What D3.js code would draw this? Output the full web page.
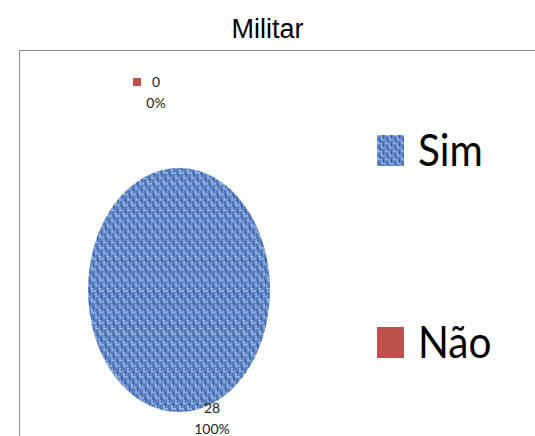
<!DOCTYPE html>
<html>
<head>
<meta charset="utf-8">
<script src="https://cdn.jsdelivr.net/npm/d3@7"></script>
<style>
  body { margin: 0; background: #fff; }
</style>
</head>
<body>
<svg id="chart"></svg>
<script>
// chart data
const categories = ['Sim', 'Não'];
const counts = [28, 0];
const percents = ['100%', '0%'];
const chartTitle = 'Militar';

const width = 535,
  height = 436;

const svg = d3.select('#chart').attr('width', width).attr('height', height);

// woven blue texture for "Sim"
const defs = svg.append('defs');
const pat = defs
  .append('pattern')
  .attr('id', 'weave')
  .attr('patternUnits', 'userSpaceOnUse')
  .attr('width', 8)
  .attr('height', 8);
pat.append('rect').attr('width', 8).attr('height', 8).attr('fill', '#5f86c8');
const threads = [
  [0, 0, 5, 1.3, '#93b3e6'],
  [4, 4, 5, 1.3, '#93b3e6'],
  [6, 0, 1.2, 4, '#345896'],
  [2, 4, 1.2, 4, '#345896'],
  [0, 6.5, 2.5, 0.9, '#c9d9f3'],
  [4.5, 2.5, 1.5, 0.9, '#c9d9f3'],
  [1, 2, 1, 1.5, '#46699f'],
  [5, 6, 1, 1.5, '#46699f']
];
threads.forEach((t) =>
  pat.append('rect').attr('x', t[0]).attr('y', t[1]).attr('width', t[2]).attr('height', t[3]).attr('fill', t[4])
);

const color = d3.scaleOrdinal().domain(categories).range(['url(#weave)', '#c0504d']);

// title
svg
  .append('text')
  .attr('x', width / 2)
  .attr('y', 38)
  .attr('text-anchor', 'middle')
  .style('font-family', 'Liberation Sans, Arial, sans-serif')
  .style('font-size', '27px')
  .text(chartTitle);

// plot frame
svg
  .append('path')
  .attr('d', 'M19.5,' + height + 'V50.5H' + width)
  .attr('fill', 'none')
  .attr('stroke', '#8c8c8c')
  .attr('stroke-width', 1);

// pie (stretched into an ellipse)
const cx = 179,
  cy = 290,
  rx = 91,
  ry = 122;

const data = categories.map((c, i) => ({ name: c, value: counts[i], pct: percents[i] }));

const pie = d3.pie().sort(null).value((d) => d.value);
const arcs = pie(data);
const arc = d3.arc().innerRadius(0).outerRadius(rx);

const g = svg.append('g').attr('transform', 'translate(' + cx + ',' + cy + ')');

g.append('g')
  .attr('transform', 'scale(1,' + ry / rx + ')')
  .selectAll('path.slice')
  .data(arcs.filter((d) => d.value > 0))
  .enter()
  .append('path')
  .attr('class', 'slice')
  .attr('d', arc)
  .attr('fill', (d) => color(d.data.name));

// data labels
const labelFont = 'Lato, "Open Sans", sans-serif';
arcs.forEach((d) => {
  const mid = (d.startAngle + d.endAngle) / 2;
  let lx, ly;
  if (d.value > 0) {
    lx = Math.sin(mid) * rx + 33;
    ly = -Math.cos(mid) * ry + 1;
  } else {
    lx = Math.sin(mid) * rx - 23;
    ly = -Math.cos(mid) * ry - 81;
  }
  const t = g
    .append('text')
    .attr('x', lx)
    .attr('y', ly)
    .attr('text-anchor', 'middle')
    .style('font-family', labelFont)
    .style('font-size', '14px')
    .attr('fill', '#222');
  t.append('tspan').attr('x', lx).attr('dy', 0).text(d.data.value);
  t.append('tspan').attr('x', lx).attr('dy', '1.5em').text(d.data.pct);
  if (d.value === 0) {
    g.append('rect')
      .attr('x', lx - 23)
      .attr('y', ly - 9)
      .attr('width', 8)
      .attr('height', 8)
      .attr('fill', color(d.data.name));
  }
});

// legend
const legend = svg
  .append('g')
  .selectAll('g.item')
  .data(categories)
  .enter()
  .append('g')
  .attr('class', 'item')
  .attr('transform', (d, i) => 'translate(377,' + (135 + i * 192) + ')');

legend
  .append('rect')
  .attr('width', 27)
  .attr('height', 31)
  .attr('fill', (d) => color(d));

legend
  .append('text')
  .attr('transform', 'translate(41,31) scale(0.9,1)')
  .style('font-family', labelFont)
  .style('font-size', '45px')
  .attr('fill', '#000')
  .text((d) => d);
</script>
</body>
</html>
